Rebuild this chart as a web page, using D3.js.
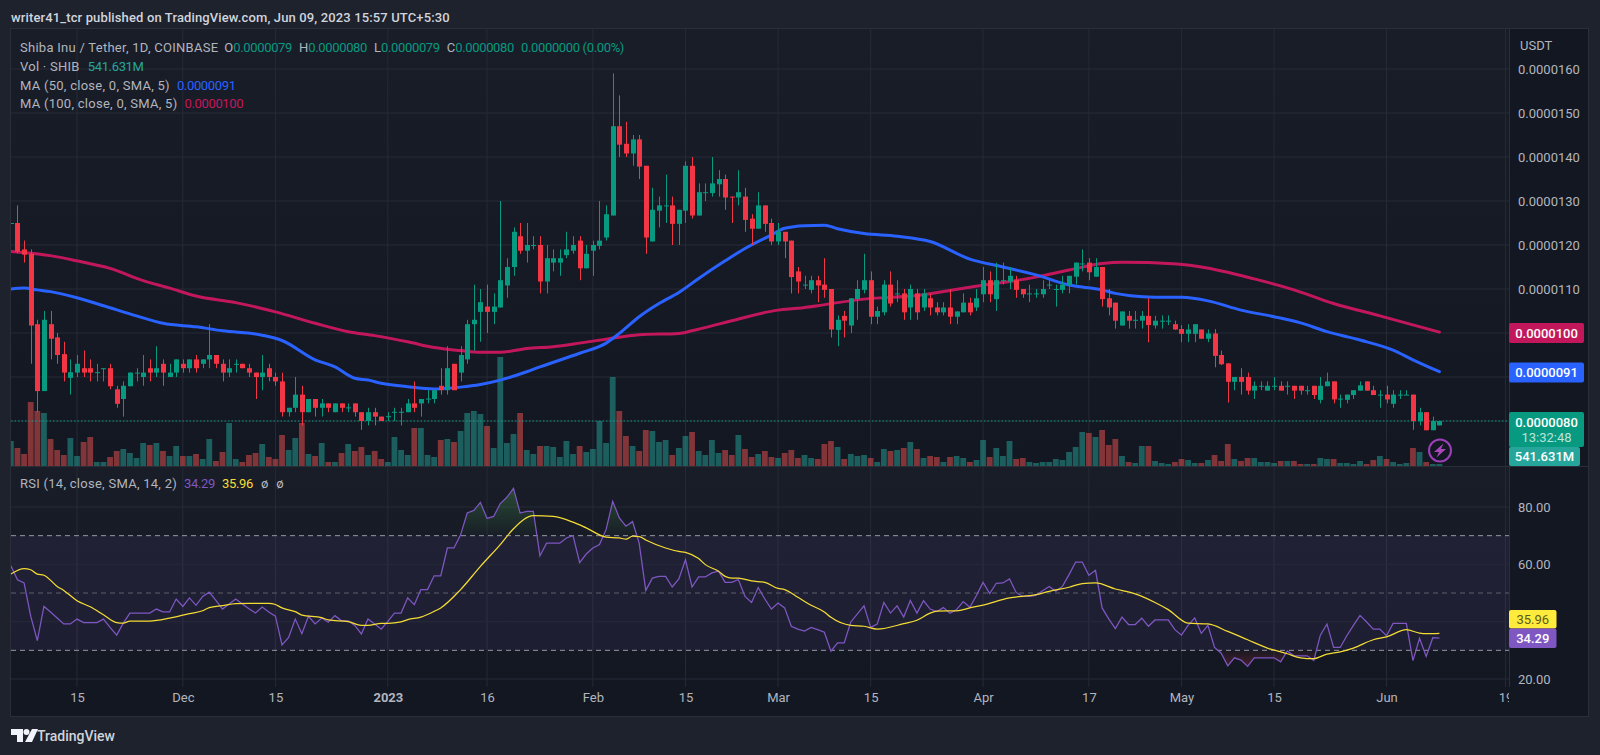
<!DOCTYPE html>
<html><head><meta charset="utf-8">
<script src="https://cdn.jsdelivr.net/npm/d3@7"></script>
<style>
html,body{margin:0;padding:0;background:#1e222d;overflow:hidden}
svg{display:block}
text{font-family:Roboto,"Open Sans",sans-serif}
</style></head><body>
<svg id="c" width="1600" height="755"></svg>
<script>
// ---- data (prices in units of 0.0000001 USDT, first candle 2022-11-05) ----
const firstDay = "2022-11-05";
const opens = [124.9,
125,119,118,102,86.8,102,99,95.2,89.8,91,
92,92,91,92,92,87.2,85,87.9,91,90,
92,91,93,90,91,93,92,94,93,94,
95,93,91,92.9,93,92,91,90,92,90,
89,82,83,86,82,85,83,84,82,84,
83,84,82,80,82,81,81,82,82,82,
84,84,85,85,88,87,93,91,94,102,
104.8,106,104.8,105.8,110.8,115,122,118.7,119.9,120,
111.7,116,116,117.7,118.7,121,114.7,118.7,119.8,121.7,
126.7,147,143,140.8,144,138,120.8,127.8,128.9,129,
124.8,127.8,138,126.7,131.8,131.8,133.8,135,131,130.8,
131,126,123.7,129,125,120.8,123,121,114,110.8,
109.8,112,111,110,100.7,103.9,101.7,107.7,109.8,112,
103.7,104.7,111,108.8,109,105.8,109,105.8,107.9,105.8,
104.7,105.8,103.7,104.7,106.9,105.8,108.8,112,107.7,111.8,
111.7,112,110,108.9,108.8,108.8,110.8,109.8,109.8,110.8,
112.8,115.7,116,112.8,115,107.9,106.9,101.7,103.9,102.8,
102.8,103.9,101.7,102.7,102.7,102,100.9,99.8,99.8,100.8,
98.7,99.9,95,93.1,88.9,90,90,86.9,87.9,86.9,
87.9,88,87.9,88,88,86.9,88,84.8,87.9,89,
85,84.8,85.9,86.9,89,87,85.9,86,83.9,85.9,
85.9,86,80,82,77.9,79];
const closes = [125,
118.5,117.8,101.7,86.8,103,98.7,95,91,91.1,93,
91,91,91.1,92,87.9,83.9,88,91,91,91,
91,92,91,91,94,92,94,92,94,95,
93,91,92,93,92,91,90,91,90,89,
82,83,86,82,85,83,84,83,84,83,
83.1,82,80,82,81,80,81.1,82.1,82.1,84,
83,85,85.1,87,87,92,87,95,102,103,
107,104.8,106,112,115,123,118.7,120,120,111.7,
117,117,117,119,120,114.7,118,120,121,127,
147,142.8,140.8,144,137.8,121.7,128,129,129,124.8,
128,138,126.7,132,132,134,135,130.8,130.9,132,
125.7,123.7,129,124.8,120.8,123,120.8,112.7,111.7,111,
112,110.8,109.8,100.8,103,102.8,107.9,110,112,103.7,
105,111,106.7,109,104.7,110,104.7,109,105.8,104.7,
105.8,103.7,104.9,106.9,104.7,107.9,112,108.8,112,112,
113,109.8,108.8,109,109,110,111,110,111,113,
116,115.8,113.8,115,107.7,105.8,102.8,104.9,102.8,103,
103.9,101.8,102.8,102.8,102.8,100.8,99.8,100.8,102,98.7,
99.9,94.8,92.9,88.9,90,88.9,86.9,88,88,88,
88,86.9,88,86.9,86.9,87,85.9,88,89,84.9,
85.1,86,87,88.1,86.9,85.9,86,84.9,86,86,
86,80,82,77.9,80,80];
const highs = [125,
129,121,119,103,105,105,100,98,94,95,
96,94,93,92,93,88,89,91,92,95,
94,97,94,93,94,94,94,95,94,102,
95,94,94,94,93,93,91,95,93,91,
91,83,90,88,85,85,85,84,84,84,
84,84,82,83,83,81,82,83,83,85,
89,85,87,87,92,97,93,97,103,111,
110,111,109,130,117,124,125,125,122,122,
120,119,119,123,122,122,120,121,130,129,
159,154,148,145,145,138,133,131,136,131,
128,139,140,134,134,140,137,136,131,137,
133,127,132,129,126,125,123,121,115,113,
113,113,117,110,104,105,107.9,112,118,114,
106,112,114,112,110,111,110,110,109,107,
107,110,104.9,109,108,110,115,114,116,116,
115,113,110,111,110,112,112,111,113,113,
116,119,117,117,115,110,106.9,104.9,105,105,
105,107.9,103.9,104,104,102.8,101.8,102,102,100.8,
100.8,100.9,96,93.1,90,92,91,89,89,89,
90,89,89,88,88,88,88,90,91,89,
86,86,87,89,89,88,87,88,87,87,
87,86,83,82,81,80];
const lows = [124.9,
118.1,116,93,82,86.8,94,93,89,86,90,
90,89,89,89,87.2,83,81,87.9,89,88,
89,90,88,90,90,91,91,91,92,92,
92,89,90,91,92,90,85,87,89,88,
81,81,82,79,82,81,81,82,82,82,
82,81,78,79,79,80,80,80,79,82,
82,81,84,84,86,86,87,89,93,96,
98,100,102,105.8,108,113,118,116,119,109,
109,114,113,117,118,112,114.7,113,119,121,
126.7,140,140,138,135,118,120.8,124,125,120,
120,125,126,126.7,130,131,131,128,125,129,
123,120,123.7,123,120,120,117,109,109,110,
109,107,108,99,97,99,100,103,109,102,
102,104,106,107,103,103,103,105,104,104,
104,102,102,104.7,104,105,107,107,105,111,
110,108,108,107,108,108,110,106,109,109,
111,114,112,112.8,106,104,101,101.7,101,101,
101,97.9,101,101,101.8,100.7,97.9,97.9,97.9,98.7,
97.9,92.2,92.7,84.2,87,86,86,85,87,86.9,
87,86.9,86,85,86,86,85,84,87.9,84,
83,84,85,86.9,86.9,85.9,83,84,83,85,
85.9,78,79,77.9,77.9,79];
// volume in lots of about 271M SHIB
const volumes = [25,
18,12,64,55,53,27,16,11,28,10,
24,29,4,4,9,15,17,13,8,23,
21,23,15,10,20,10,10,12,7,27,
5,14,43,7,4,11,13,22,9,7,
31,16,28,43,12,10,23,4,4,13,
22,15,19,11,15,7,4,29,16,11,
38,38,11,9,26,27,24,35,53,55,
52,40,18,109,23,32,53,16,12,20,
20,19,9,25,12,20,14,17,45,23,
89,55,30,20,15,36,35,24,26,11,
18,30,34,15,11,26,13,16,11,31,
17,9,12,15,9,8,13,16,8,11,
8,7,22,25,19,7,12,10,11,8,
4,17,15,16,18,24,17,8,10,9,
4,9,10,8,4,6,26,9,18,10,
25,7,8,4,3,4,4,7,6,14,
19,34,33,29,36,21,27,10,4,3,
20,20,5,3,2,4,7,6,3,3,
6,11,5,22,7,5,8,8,4,4,
3,5,5,5,2,2,2,8,7,7,
3,3,2,5,2,6,10,7,4,2,
3,18,14,4,2,2];
const rsi = [59.5,
54.6,53.5,41.9,33.4,45.3,43.4,41.3,39.2,39.2,40.9,
39.7,39.7,39.7,40.9,38,35.3,39.5,43,43,43,
43,44.4,43.4,43.4,47.9,45.3,48.3,45.7,48.8,50.3,
47.4,44.4,46.2,47.9,46.2,44.5,43,45.1,43.4,41.9,
31.9,34.5,40.9,35.8,41.9,39.2,41.3,39.8,42.1,40.3,
40.3,38.7,35.7,40.9,39.2,37.4,40.1,43,43,48.3,
45.9,51.2,51.2,56,56,65.7,65.7,70.3,77.9,78.8,
81.6,76,76.7,81.2,83.4,86.5,77.9,78.5,78.5,63,
67.4,67.4,67.4,69.2,70,60.6,63.6,65.7,66.9,72.1,
82,76.2,73.3,74.9,67.4,50.9,55.2,55.8,55.8,52.1,
54.9,61.6,52.1,55.6,55.6,57,57.6,53.7,53.7,54.7,
48.8,46.7,51.9,47.9,44.4,46.5,44.8,38.4,37.4,36.7,
38,37.2,36.3,29.7,32.6,32.6,39.9,42.7,45.5,38,
39.2,46.7,43,45.5,41.6,47.4,43,47.3,44.4,43.5,
44.9,42.9,44.2,47,45,49.1,53.7,49.8,53.4,53.5,
54.9,50.2,48.8,48.8,49.2,50.8,52.3,50.6,52.3,56.4,
60.8,60.8,56.2,57.9,44.8,41,37.6,41.6,39,39,
41.2,38.4,40.6,40.6,40.6,37.2,35.3,38.7,41.3,35.9,
38.7,31,29,24.6,27.4,26.6,24.4,27.4,27.4,27.4,
27.4,26,29.8,28.1,28.1,28.1,26.5,35.3,39.2,31,
31,35.1,38.7,42.2,39.9,37.4,37.4,35.1,39.4,39.4,
39.4,26.4,34.2,27.9,34.4,34.29];
// moving averages, read at these candle numbers (0 = 2022-11-06)
const ma100At = [-1,2,6,9,14,19,23,27,33,39,45,50,54,59,63,67,70,73,77,81,85,89,94,100,102,108,115,118,121,124,128,136,144,154,159,164,167,171,179,187,193,199,206,215];
const ma100   = [118.5,118.1,117.3,116.4,114.7,111.9,110.2,108.4,106.9,104.8,102.2,100.3,99.4,98,96.7,96,95.6,95.6,96.5,96.9,97.7,98.6,99.6,99.9,100.5,102.8,105.2,105.6,106.2,106.9,107.7,108.5,110.4,112.7,114.3,115.8,116.1,116,115,112.3,109.8,106.7,103.9,100.2];
const ma50At = [-1,1,3,5,9,13,18,22,27,31,37,40,45,48,51,53,55,59,63,67,70,73,77,79,85,89,91,94,97,100,103,107,110,114,116,119,122,124,128,133,138,144,149,154,159,164,166,171,176,180,185,190,194,198,203,208,211,215];
const ma50   = [110,110.2,109.8,109.4,108,106.2,103.9,102.2,101.4,100.5,99.5,98.3,93.9,92.3,89.7,89.3,88.6,87.8,87.3,87.7,88.3,89.3,91.2,92.3,95.4,97.7,99.9,103.7,106.7,109.2,112.4,116.4,119.2,122.3,123.8,124.4,124.5,123.7,122.6,122,120.8,116.8,115,113.2,110.9,109.8,109,108.2,108.1,107.3,105.2,103.7,102.3,100.3,98.4,96.1,93.9,91.2];
const rsiMaAt = [-1,1,2,3,4,6,7,9,11,13,15,16,17,20,23,26,28,29,31,33,35,38,39,40,42,43,46,47,50,52,53,55,56,58,59,61,63,64,67,70,73,75,78,81,84,86,89,91,92,93,94,95,98,100,101,103,104,106,107,108,109,111,113,115,116,118,120,122,123,126,128,130,134,136,138,139,142,144,146,150,154,156,159,161,163,166,169,172,174,177,180,183,186,189,192,194,196,198,200,202,205,207,210,212,213,215];
const rsiMa   = [56.6,58.5,58.1,56.6,56.2,52.3,50.9,47.3,45.2,42.4,39.7,39.5,40.2,40.2,41.2,42.8,43.8,44.9,45.6,46.3,46.4,46.4,46,44.8,43.5,42.3,41.4,40.6,40,38.7,38.7,39.4,39.4,39.9,40.7,41.6,43.6,44.8,51.2,59.3,66.9,72.4,77,76.7,74.7,72.7,69.5,69.2,68.8,69.8,69.7,68.5,65.7,64.5,64.2,62,59.9,57.6,55.8,55.2,55.2,54.2,53.7,51.6,51.2,48.5,45.7,43.4,41.5,38.7,38.4,37.4,39.3,40.5,43,43.7,43.8,44.8,45.8,48.3,49.4,50.6,52,53.3,53.5,51.4,49.7,46.7,44.2,39.5,39.2,36.6,33.7,30.8,28.8,27.4,27.1,28.7,29.5,30.8,33.7,34.7,37.2,36,35.8,35.96];
// axis ticks
const priceTicks = [160,150,140,130,120,110];
const priceGrid = [160,150,140,130,120,110,100,90,80];
const rsiTicks = [80,60,20];
const rsiGrid = [80,60,40,20];
const timeTickDates = ["2022-11-15","2022-12-01","2022-12-15","2023-01-01","2023-01-16","2023-02-01","2023-02-15","2023-03-01","2023-03-15","2023-04-01","2023-04-17","2023-05-01","2023-05-15","2023-06-01","2023-06-19"];
const timeTickLabels = ["15","Dec","15","2023","16","Feb","15","Mar","15","Apr","17","May","15","Jun","19"];
const lastClose=80, ma50Last=91, ma100Last=100, rsiLast=34.29, rsiMaLast=35.96, overbought=70, middle=50, oversold=30;

// ---- helpers ----
const parse = d3.utcParse("%Y-%m-%d");
const days = d3.utcDay.range(parse(firstDay), d3.utcDay.offset(parse(firstDay), closes.length));
const candleDate = i => days[i+1];
const fmtPrice = v => (v*1e-7).toFixed(7);
const svg = d3.select("#c");
const L=11,T=29,R=1509,F=1588,B=716,P1B=466,P2B=687;

const x = d3.scaleUtc().domain([parse("2022-11-15"),parse("2023-06-01")]).range([77,1386.5]);
const yP = d3.scaleLinear().domain([80,160]).range([421,69]);
const yV = d3.scaleLinear().domain([0,109]).range([P1B,357]);
const yR = d3.scaleLinear().domain([20,80]).range([679,507]);

const defs = svg.append("defs");
const grad=(id,a,b)=>{const g=defs.append("linearGradient").attr("id",id).attr("x1",0).attr("x2",0).attr("y1",0).attr("y2",1);
  g.append("stop").attr("offset",0).attr("stop-color",a);g.append("stop").attr("offset",1).attr("stop-color",b);};
grad("bg1","#191d28","#131722");grad("bg2","#191d28","#131722");
const gg=defs.append("linearGradient").attr("id","ob").attr("x1",0).attr("x2",0).attr("y1",0).attr("y2",1);
gg.append("stop").attr("offset",0).attr("stop-color","#4caf50").attr("stop-opacity",.32);
gg.append("stop").attr("offset",1).attr("stop-color","#4caf50").attr("stop-opacity",.02);
const rg=defs.append("linearGradient").attr("id","os").attr("x1",0).attr("x2",0).attr("y1",0).attr("y2",1);
rg.append("stop").attr("offset",0).attr("stop-color","#f23645").attr("stop-opacity",.02);
rg.append("stop").attr("offset",1).attr("stop-color","#f23645").attr("stop-opacity",.25);
const clip=(id,x0,y0,w,h)=>defs.append("clipPath").attr("id",id).append("rect").attr("x",x0).attr("y",y0).attr("width",w).attr("height",h);
clip("p1",L,T,R-L,P1B-T);clip("p2",L,P1B,R-L,P2B-P1B);clip("tA",L,P2B,R-L,B-P2B);
clip("over",L,P1B,R-L,yR(overbought)-P1B);clip("under",L,yR(oversold),R-L,P2B-yR(oversold));

// background
svg.append("rect").attr("width",1600).attr("height",755).attr("fill","#1e222d");
svg.append("rect").attr("x",L).attr("y",T).attr("width",F-L).attr("height",B-T).attr("fill","#131722");
svg.append("rect").attr("x",L).attr("y",T).attr("width",R-L).attr("height",P1B-T).attr("fill","url(#bg1)");
svg.append("rect").attr("x",L).attr("y",P1B).attr("width",R-L).attr("height",P2B-P1B).attr("fill","url(#bg2)");

// grid
const gridC="#262a36";
const g1=svg.append("g").attr("clip-path","url(#p1)");
const g2=svg.append("g").attr("clip-path","url(#p2)");
const tickDs=timeTickDates.map(parse);
[g1,g2].forEach((g,k)=>{
  g.selectAll(".v").data(tickDs).join("line").attr("x1",d=>x(d)).attr("x2",d=>x(d))
   .attr("y1",k?P1B:T).attr("y2",k?P2B:P1B).attr("stroke",gridC);
});
g1.selectAll(".h").data(priceGrid).join("line").attr("x1",L).attr("x2",R).attr("y1",d=>yP(d)).attr("y2",d=>yP(d)).attr("stroke",gridC);
g2.append("rect").attr("x",L).attr("width",R-L).attr("y",yR(overbought)).attr("height",yR(oversold)-yR(overbought)).attr("fill","#7e57c2").attr("fill-opacity",.1);
g2.selectAll(".h").data(rsiGrid).join("line").attr("x1",L).attr("x2",R).attr("y1",d=>yR(d)).attr("y2",d=>yR(d)).attr("stroke",gridC);

// volume
const idx=d3.range(-1,closes.length-1);
const bw=5.8;
g1.selectAll(".vol").data(idx).join("rect")
 .attr("x",i=>x(candleDate(i))-bw/2).attr("width",bw)
 .attr("y",i=>yV(volumes[i+1])).attr("height",i=>yV(0)-yV(volumes[i+1]))
 .attr("fill",i=>closes[i+1]>=opens[i+1]?"#26a69a":"#ef5350").attr("fill-opacity",.5);

// last price line
g1.append("line").attr("x1",L).attr("x2",R).attr("y1",yP(lastClose)).attr("y2",yP(lastClose))
 .attr("stroke","#089981").attr("stroke-dasharray","1.5 2");

// moving averages
const maLine=(at,vals)=>d3.line().curve(d3.curveMonotoneX).x((d,k)=>x(candleDate(at[k]))).y(d=>yP(d))(vals);
g1.append("path").attr("d",maLine(ma100At,ma100)).attr("fill","none").attr("stroke","#c2185b").attr("stroke-width",3).attr("stroke-linecap","round");
g1.append("path").attr("d",maLine(ma50At,ma50)).attr("fill","none").attr("stroke","#2962ff").attr("stroke-width",3).attr("stroke-linecap","round");

// candles
const col=i=>closes[i+1]>=opens[i+1]?"#089981":"#f23645";
g1.selectAll(".wick").data(idx).join("line")
 .attr("x1",i=>Math.round(x(candleDate(i)))+.5).attr("x2",i=>Math.round(x(candleDate(i)))+.5)
 .attr("y1",i=>yP(highs[i+1])).attr("y2",i=>yP(lows[i+1])).attr("stroke",col);
g1.selectAll(".body").data(idx).join("rect")
 .attr("x",i=>Math.round(x(candleDate(i)))-2).attr("width",5)
 .attr("y",i=>yP(Math.max(opens[i+1],closes[i+1])))
 .attr("height",i=>Math.max(1,Math.abs(yP(opens[i+1])-yP(closes[i+1]))))
 .attr("fill",col);

// RSI
const rsiArea=d3.area().x((d,k)=>x(days[k])).y0(yR(overbought)).y1(d=>yR(d));
const rsiArea2=d3.area().x((d,k)=>x(days[k])).y0(yR(oversold)).y1(d=>yR(d));
defs.append("clipPath").attr("id","rsiA").append("path").attr("d",rsiArea(rsi));
defs.append("clipPath").attr("id","rsiB").append("path").attr("d",rsiArea2(rsi));
const gOver=g2.append("g").attr("clip-path","url(#over)");
gOver.append("rect").attr("x",L).attr("width",R-L).attr("y",yR(86.5)).attr("height",yR(overbought)-yR(86.5)).attr("fill","url(#ob)").attr("clip-path","url(#rsiA)");
const gUnder=g2.append("g").attr("clip-path","url(#under)");
gUnder.append("rect").attr("x",L).attr("width",R-L).attr("y",yR(oversold)).attr("height",yR(24)-yR(oversold)).attr("fill","url(#os)").attr("clip-path","url(#rsiB)");
[[overbought,"#9598a1"],[middle,"#5d6069"],[oversold,"#9598a1"]].forEach(([v,c])=>{
  g2.append("line").attr("x1",L).attr("x2",R).attr("y1",yR(v)).attr("y2",yR(v)).attr("stroke",c).attr("stroke-dasharray","5 4");
});
g2.append("path").attr("d",d3.line().x((d,k)=>x(days[k])).y(d=>yR(d))(rsi)).attr("fill","none").attr("stroke","#7e57c2").attr("stroke-width",1.25);
g2.append("path").attr("d",d3.line().curve(d3.curveMonotoneX).x((d,k)=>x(candleDate(rsiMaAt[k]))).y(d=>yR(d))(rsiMa)).attr("fill","none").attr("stroke","#f4dc35").attr("stroke-width",1.25);

// frame and separators
const frame="#2a2e39";
svg.append("rect").attr("x",L-.5).attr("y",T-.5).attr("width",F-L+1).attr("height",B-T+1).attr("fill","none").attr("stroke",frame);
svg.append("line").attr("x1",R+.5).attr("x2",R+.5).attr("y1",T).attr("y2",P2B).attr("stroke",frame);
svg.append("line").attr("x1",L).attr("x2",F).attr("y1",P1B+.5).attr("y2",P1B+.5).attr("stroke",frame);

// axes
const tc="#b2b5be";
const styleAxis=g=>{g.select(".domain").remove();g.selectAll("line").remove();g.selectAll("text").attr("fill",tc).attr("font-size",13).attr("font-family","Roboto,sans-serif");};
svg.append("g").attr("transform",`translate(${R+9},0)`).call(d3.axisRight(yP).tickValues(priceTicks).tickFormat(fmtPrice).tickSize(0).tickPadding(0)).call(styleAxis);
svg.append("g").attr("transform",`translate(${R+9},0)`).call(d3.axisRight(yR).tickValues(rsiTicks).tickFormat(d=>d.toFixed(2)).tickSize(0).tickPadding(0)).call(styleAxis);
svg.append("g").attr("clip-path","url(#tA)").append("g").attr("transform",`translate(0,693)`)
  .call(d3.axisBottom(x).tickValues(tickDs).tickFormat((d,i)=>timeTickLabels[i]).tickSize(0).tickPadding(0))
  .call(styleAxis).call(g=>g.selectAll("text").attr("font-weight",(d,i)=>timeTickLabels[i]==="2023"?700:400));
svg.append("text").attr("x",R+11).attr("y",50).attr("fill",tc).attr("font-size",13).text("USDT");

// value tags
const tag=(y0,h,w,fill,lines)=>{
  svg.append("rect").attr("x",R).attr("y",y0).attr("width",w).attr("height",h).attr("rx",2).attr("fill",fill);
  lines.forEach(l=>svg.append("text").attr("x",R+w/2+(l.dx||0)).attr("y",l.y).attr("text-anchor","middle").attr("fill",l.c).attr("font-size",l.s||13).attr("font-weight",l.w||500).text(l.t));
};
tag(yP(ma100Last)-10,20,75,"#c2185b",[{t:fmtPrice(ma100Last),y:yP(ma100Last)+4.5,c:"#fff"}]);
tag(yP(ma50Last)-10,20,75,"#2962ff",[{t:fmtPrice(ma50Last),y:yP(ma50Last)+4.5,c:"#fff"}]);
tag(412,35,75,"#089981",[{t:fmtPrice(lastClose),y:426.5,c:"#fff"},{t:"13:32:48",y:442,c:"#b9e4da",w:400}]);
tag(447,19,71,"#26a69a",[{t:"541.631M",y:461,c:"#fff"}]);
tag(610,18.5,47.5,"#ffeb3b",[{t:rsiMaLast.toFixed(2),y:624,c:"#5d5a1a",w:400}]);
tag(628.5,19.5,47.5,"#7e57c2",[{t:rsiLast.toFixed(2),y:643,c:"#fff"}]);

// lightning badge
const badge=svg.append("g").attr("transform","translate(1440,450.5)");
badge.append("circle").attr("r",11).attr("fill","#131722").attr("stroke","#9c3fb8").attr("stroke-width",2);
badge.append("path").attr("d","M3.5,-7 L-6,1.5 L-1,1.5 L-3.5,7 L6,-1.5 L1,-1.5 Z").attr("fill","#ab47bc");

// header text
svg.append("text").attr("x",11).attr("y",22).attr("fill","#d1d4dc").attr("font-size",13).attr("font-weight",500).attr("letter-spacing",.13).text("writer41_tcr published on TradingView.com, Jun 09, 2023 15:57 UTC+5:30");

const lg="#b2b5be";
const legend=(y,parts)=>{const t=svg.append("text").attr("x",20).attr("y",y).attr("font-size",13);
  parts.forEach(([s,c,dx,ls])=>t.append("tspan").attr("fill",c).attr("dx",dx||0).attr("letter-spacing",ls===undefined?.27:ls).text(s));return t;};
const gv="#089981", num=-.35;
legend(52,[["Shiba Inu / Tether, 1D, COINBASE",lg],["O",lg,6,0],["0.0000079",gv,0,num],["H",lg,7,0],["0.0000080",gv,0,num],["L",lg,7,0],["0.0000079",gv,0,num],["C",lg,7,0],["0.0000080",gv,0,num],["0.0000000 (0.00%)",gv,7,num]]);
legend(71,[["Vol · SHIB",lg],["541.631M","#26a69a",8,num]]);
legend(90,[["MA (50, close, 0, SMA, 5)",lg],["0.0000091","#2962ff",7,num]]);
legend(108,[["MA (100, close, 0, SMA, 5)",lg],["0.0000100","#c2185b",7,num]]);
legend(488,[["RSI (14, close, SMA, 14, 2)",lg],["34.29","#7e57c2",7,num],["35.96","#f4dc35",7,num],["ø",lg,8,0],["ø",lg,8,0]]);

// footer logo
const logo=svg.append("g").attr("transform","translate(11,729)").attr("fill","#f0f3fa");
logo.append("path").attr("d","M0,0 H12 V13 H6 V6 H0 Z");
logo.append("circle").attr("cx",15.5).attr("cy",3).attr("r",3);
logo.append("path").attr("d","M21,0 H27 L21,13 H14 Z");
svg.append("text").attr("x",37).attr("y",741).attr("fill","#d1d4dc").attr("font-size",14).attr("font-weight",500).text("TradingView");
</script>
</body></html>
